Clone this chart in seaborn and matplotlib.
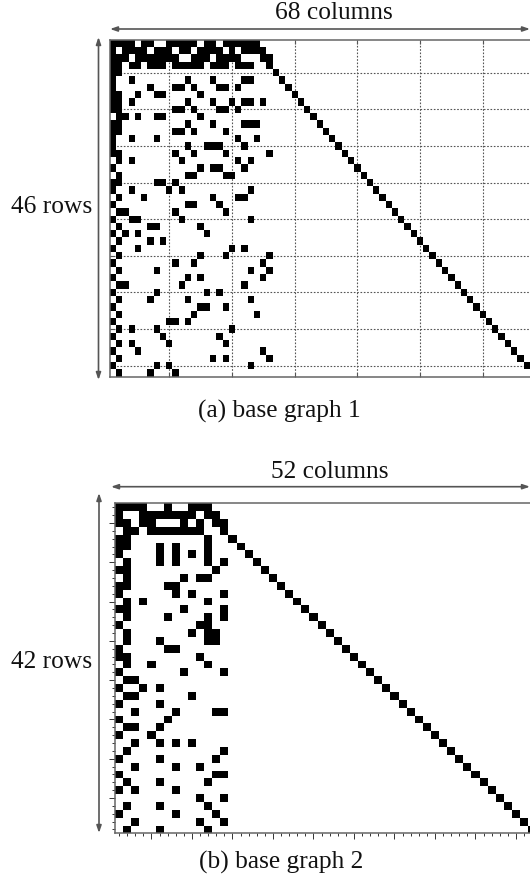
import numpy as np
import matplotlib
matplotlib.use('Agg')
import matplotlib.pyplot as plt
import seaborn as sns
from matplotlib.colors import ListedColormap

# positions of the ones, row by row
bg1_rows = [
    [0, 1, 2, 3, 5, 6, 9, 10, 11, 12, 13, 15, 16, 18, 19, 20, 21, 22, 23],
    [0, 2, 3, 4, 5, 7, 8, 9, 11, 12, 14, 15, 16, 17, 19, 21, 22, 23, 24],
    [0, 1, 2, 4, 5, 6, 7, 8, 9, 10, 13, 14, 15, 17, 18, 19, 20, 24, 25],
    [0, 1, 3, 4, 6, 7, 8, 10, 11, 12, 13, 14, 16, 17, 18, 20, 21, 22, 25],
    [0, 1, 26],
    [0, 3, 12, 16, 21, 22, 27],
    [0, 6, 10, 11, 13, 17, 18, 20, 28],
    [0, 1, 4, 7, 8, 14, 29],
    [0, 1, 3, 12, 16, 19, 21, 22, 24, 30],
    [0, 1, 10, 11, 13, 17, 18, 20, 31],
    [1, 2, 4, 7, 8, 14, 32],
    [0, 1, 12, 16, 21, 22, 23, 33],
    [0, 1, 10, 11, 13, 18, 34],
    [0, 3, 7, 20, 23, 35],
    [0, 12, 15, 16, 17, 21, 36],
    [0, 1, 10, 13, 18, 25, 37],
    [1, 3, 11, 20, 22, 38],
    [0, 14, 16, 17, 21, 39],
    [1, 12, 13, 18, 19, 40],
    [0, 1, 7, 8, 10, 41],
    [0, 3, 9, 11, 22, 42],
    [1, 5, 16, 20, 21, 43],
    [0, 12, 13, 17, 44],
    [1, 2, 10, 18, 45],
    [0, 3, 4, 11, 22, 46],
    [1, 6, 7, 14, 47],
    [0, 2, 4, 15, 48],
    [1, 6, 8, 49],
    [0, 4, 19, 21, 50],
    [1, 14, 18, 25, 51],
    [0, 10, 13, 24, 52],
    [1, 7, 22, 25, 53],
    [0, 12, 14, 24, 54],
    [1, 2, 11, 21, 55],
    [0, 7, 15, 17, 56],
    [1, 6, 12, 22, 57],
    [0, 14, 15, 18, 58],
    [1, 13, 23, 59],
    [0, 9, 10, 12, 60],
    [1, 3, 7, 19, 61],
    [0, 8, 17, 62],
    [1, 3, 9, 18, 63],
    [0, 4, 24, 64],
    [1, 16, 18, 25, 65],
    [0, 7, 9, 22, 66],
    [1, 6, 10, 67],
]

bg2_rows = [
    [0, 1, 2, 3, 6, 9, 10, 11],
    [0, 3, 4, 5, 6, 7, 8, 9, 11, 12],
    [0, 1, 3, 4, 8, 10, 12, 13],
    [1, 2, 4, 5, 6, 7, 8, 9, 10, 13],
    [0, 1, 11, 14],
    [0, 1, 5, 7, 11, 15],
    [0, 5, 7, 9, 11, 16],
    [1, 5, 7, 11, 13, 17],
    [0, 1, 12, 18],
    [1, 8, 10, 11, 19],
    [0, 1, 6, 7, 20],
    [0, 7, 9, 13, 21],
    [1, 3, 11, 22],
    [0, 1, 8, 13, 23],
    [1, 6, 11, 13, 24],
    [0, 10, 11, 25],
    [1, 9, 11, 12, 26],
    [1, 5, 11, 12, 27],
    [0, 6, 7, 28],
    [0, 1, 10, 29],
    [1, 4, 11, 30],
    [0, 8, 13, 31],
    [1, 2, 32],
    [0, 3, 5, 33],
    [1, 2, 9, 34],
    [0, 5, 35],
    [2, 7, 12, 13, 36],
    [0, 6, 37],
    [1, 2, 5, 38],
    [0, 4, 39],
    [2, 5, 7, 9, 40],
    [1, 13, 41],
    [0, 5, 12, 42],
    [2, 7, 10, 43],
    [0, 12, 13, 44],
    [1, 5, 11, 45],
    [0, 2, 7, 46],
    [10, 13, 47],
    [1, 5, 11, 48],
    [0, 7, 12, 49],
    [2, 10, 13, 50],
    [1, 5, 11, 51],
]

titles = ['68 columns', '52 columns']
side_labels = ['46 rows', '42 rows']
captions = ['(a) base graph 1', '(b) base graph 2']

sns.set_theme(style='white')
plt.rcParams['font.family'] = ['Liberation Serif', 'DejaVu Sans']

W, H = 530, 881
fig = plt.figure(figsize=(W / 100, H / 100), dpi=100)


def add_panel(x0, y0, cell_w, cell_h, rows, n_cols):
    # axes given in image pixels, it runs past the right edge like the original crop
    ax = fig.add_axes([x0 / W, 1 - (y0 + cell_h * len(rows)) / H,
                       cell_w * n_cols / W, cell_h * len(rows) / H])
    mat = np.zeros((len(rows), n_cols))
    for r, cols in enumerate(rows):
        mat[r, cols] = 1
    sns.heatmap(mat, mask=mat == 0, cmap=ListedColormap(['black']), vmin=0, vmax=1,
                cbar=False, xticklabels=False, yticklabels=False, ax=ax)
    for side in ['top', 'bottom', 'left', 'right']:
        ax.spines[side].set_visible(True)
        ax.spines[side].set_color('#666666')
        ax.spines[side].set_linewidth(1.1)
    return ax


def arrow(x1, y1, x2, y2):
    plt.annotate('', xy=(x2 / W, 1 - y2 / H), xytext=(x1 / W, 1 - y1 / H),
                 xycoords='figure fraction', textcoords='figure fraction',
                 arrowprops=dict(arrowstyle='<|-|>,head_length=0.35,head_width=0.12',
                                 color='#555555', lw=1.2, shrinkA=0, shrinkB=0))


def label(x, y, s):
    # y is the text baseline in image pixels
    fig.text(x / W, 1 - y / H, s, ha='center', va='baseline', fontsize=18.3, color='#111111')


# ---------------------- panel a ----------------------
ax1 = add_panel(109.7, 39.7, 6.27, 7.325, bg1_rows, 68)
ax1.set_xticks(np.arange(9.5, 68, 10))
ax1.set_yticks(np.arange(4.5, 46, 5))
ax1.tick_params(direction='in', length=3, width=0.8, color='#555555',
                bottom=True, top=True, left=True, labelbottom=False, labelleft=False)
ax1.grid(True, linestyle=(0, (1.5, 1.5)), color='#555555', linewidth=0.8)
ax1.set_axisbelow(True)

# ---------------------- panel b ----------------------
ax2 = add_panel(115, 503.3, 8.1, 7.86, bg2_rows, 52)
ax2.set_xticks(np.arange(4.5, 52, 5))
ax2.set_xticks(np.arange(0.5, 52, 1), minor=True)
ax2.set_yticks(np.arange(2.5, 42, 5))
ax2.set_yticks(np.arange(0.5, 42, 1), minor=True)
ax2.tick_params(which='major', direction='out', length=4.5, width=0.7, color='#333333',
                bottom=True, left=True, labelbottom=False, labelleft=False)
ax2.tick_params(which='minor', direction='out', length=2, width=0.7, color='#333333',
                bottom=True, left=True)

# arrows and text
arrow(110, 29, 530, 29)
arrow(98.5, 37, 98.5, 380)
arrow(111, 486.7, 530, 486.7)
arrow(99, 493, 99, 833)

label(334, 19.3, titles[0])
label(51.5, 213, side_labels[0])
label(279.5, 417.7, captions[0])
label(330, 477.7, titles[1])
label(51.7, 668, side_labels[1])
label(281, 869, captions[1])

fig.savefig('out.png', dpi=100)
